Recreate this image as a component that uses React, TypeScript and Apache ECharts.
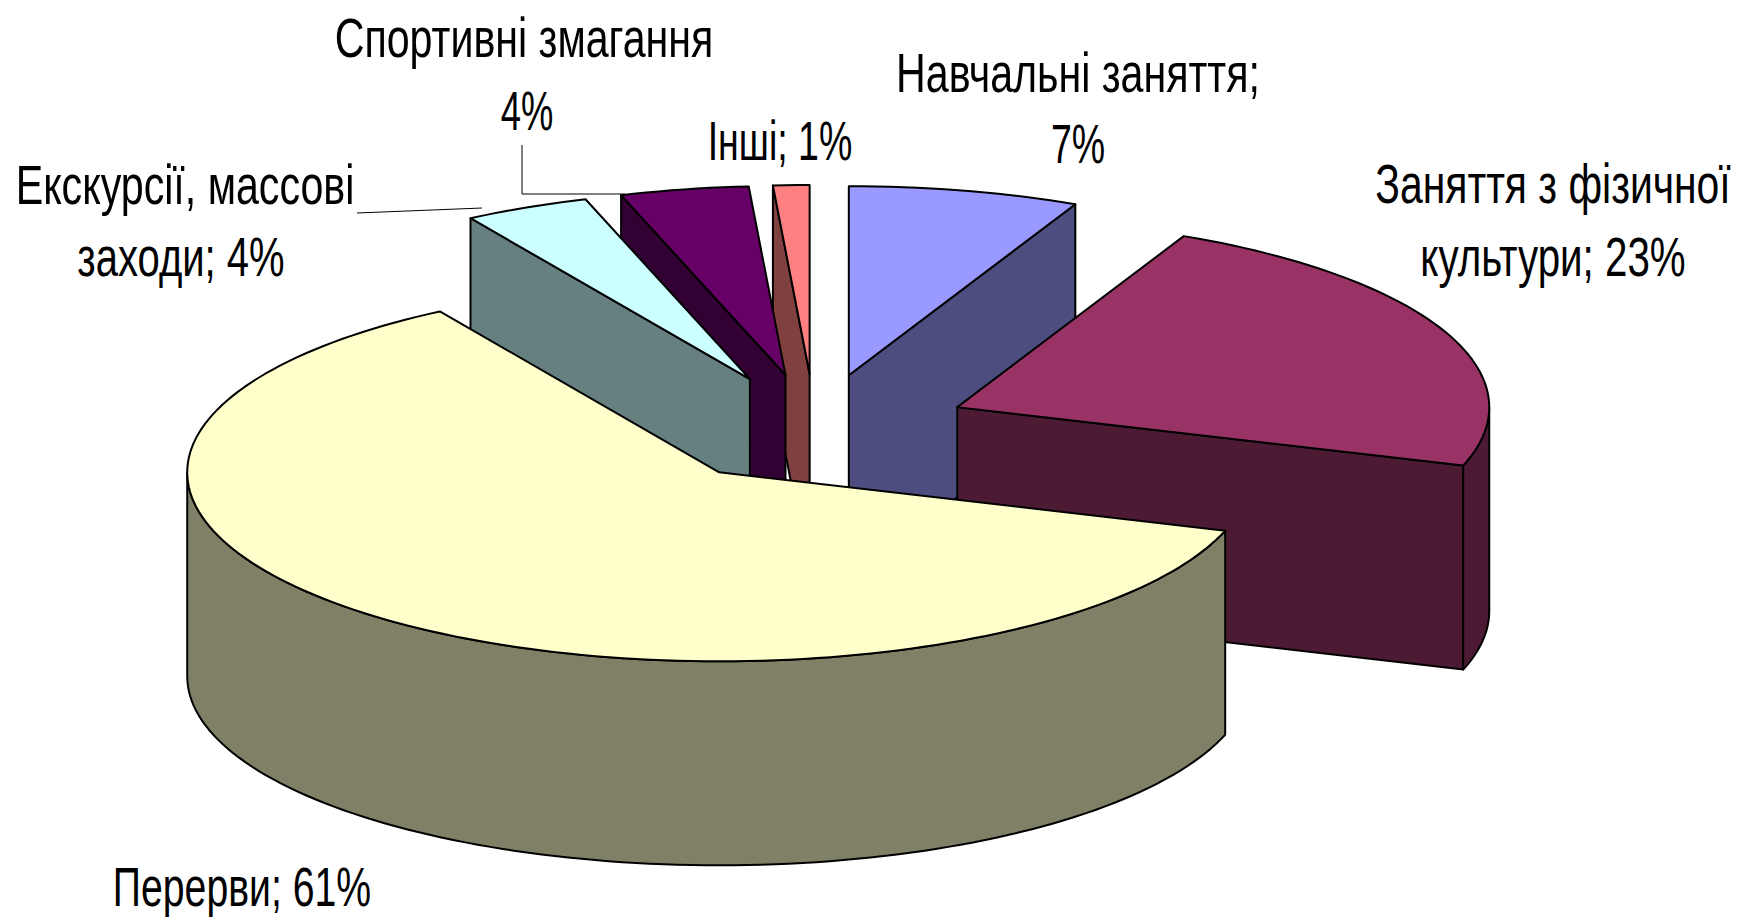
import React, { useEffect, useRef } from "react";
import * as echarts from "echarts";

const categories = ["Навчальні заняття", "Заняття з фізичної культури", "Перерви", "Екскурсії, массові заходи", "Спортивні змагання", "Інші"];
const shares = [7, 23, 61.2, 3.8, 3.9, 1.1];
const topColors = ["#9999FF", "#993366", "#FFFFCC", "#CCFFFF", "#660066", "#FF8080"];
const sideColors = ["#4D4D80", "#4D1A33", "#808066", "#668080", "#330033", "#804040"];
const drawOrder = [5, 4, 3, 0, 1, 2];

const labelLines = [
  "Спортивні змагання", "4%", "Інші; 1%", "Навчальні заняття;", "7%",
  "Заняття з фізичної", "культури; 23%", "Екскурсії, массові", "заходи; 4%", "Перерви; 61%",
];
const labelX = [524, 527, 780, 1078, 1078, 1553, 1553, 185, 181, 242];
const labelY = [38, 110, 141, 73, 144, 184, 256, 185, 256, 886];
const labelScale = [0.735, 0.65, 0.67, 0.735, 0.67, 0.73, 0.72, 0.735, 0.715, 0.7];

const CX = 815, CY = 429, RX = 532, RY = 189, EXPLODE = 155, DEPTH = 204;
const rad = (p: number) => (p * 3.6 * Math.PI) / 180;
const onEllipse = (ox: number, oy: number, deg: number, dy = 0) => {
  const t = (deg * Math.PI) / 180;
  return [ox + Math.sin(t) * RX, oy - Math.cos(t) * RY + dy];
};
const arc = (ox: number, oy: number, a: number, b: number, dy = 0) => {
  const n = Math.max(2, Math.ceil(Math.abs(b - a) / 1.5));
  const pts: number[][] = [];
  for (let i = 0; i <= n; i++) pts.push(onEllipse(ox, oy, a + ((b - a) * i) / n, dy));
  return pts;
};

const starts: number[] = [];
shares.reduce((acc, v, i) => { starts[i] = acc; return acc + v; }, 0);

function renderSlice(_p: any, api: any) {
  const startPct = api.value(0), endPct = api.value(1);
  const top = topColors[api.value(2)], side = sideColors[api.value(2)];
  const mid = rad((startPct + endPct) / 2);
  const ox = CX + Math.sin(mid) * EXPLODE;
  const oy = CY - Math.cos(mid) * EXPLODE * (RY / RX);
  const a = startPct * 3.6, b = endPct * 3.6;
  const stroke = { stroke: "#000", lineWidth: 2, lineJoin: "round" };
  const children: any[] = [];
  const poly = (points: number[][], fill: string) =>
    children.push({ type: "polygon", shape: { points }, style: { fill, ...stroke } });
  const face = (deg: number) => {
    const e = onEllipse(ox, oy, deg);
    poly([[ox, oy], e, [e[0], e[1] + DEPTH], [ox, oy + DEPTH]], side);
  };
  // a radial wall shows when its outward normal points towards the viewer
  if (Math.sin((a * Math.PI) / 180) < 0) face(a);
  if (Math.sin((b * Math.PI) / 180) > 0) face(b);
  const ra = Math.max(a, 90), rb = Math.min(b, 270);
  if (rb > ra) poly([...arc(ox, oy, ra, rb), ...arc(ox, oy, ra, rb, DEPTH).reverse()], side);
  poly([[ox, oy], ...arc(ox, oy, a, b)], top);
  return { type: "group", children };
}

export default function App() {
  const ref = useRef<HTMLDivElement>(null);
  useEffect(() => {
    document.body.style.margin = "0";
    document.body.style.background = "#fff";
    const chart = echarts.init(ref.current!, undefined, { renderer: "svg" });
    chart.setOption({
      animation: false,
      backgroundColor: "#fff",
      series: [{
        type: "custom",
        coordinateSystem: "none",
        renderItem: renderSlice,
        silent: true,
        z: 2,
        data: drawOrder.map((i) => ({ name: categories[i], value: [starts[i], starts[i] + shares[i], i] })),
      }],
      graphic: {
        elements: [
          { type: "polyline", z: 5, shape: { points: [[357, 213], [482, 208]] }, style: { stroke: "#000", lineWidth: 1, fill: "none" } },
          { type: "polyline", z: 5, shape: { points: [[522, 145], [522, 194], [625, 194]] }, style: { stroke: "#000", lineWidth: 1, fill: "none" } },
          ...labelLines.map((text, i) => ({
            type: "text", z: 6, x: labelX[i], y: labelY[i], scaleX: labelScale[i], scaleY: 1,
            style: { text, x: 0, y: 0, align: "center", verticalAlign: "middle", fill: "#000", font: '56px "Liberation Sans"' },
          })),
        ],
      },
    });
    return () => chart.dispose();
  }, []);
  return <div ref={ref} style={{ width: 1739, height: 917, overflow: "hidden" }} />;
}
